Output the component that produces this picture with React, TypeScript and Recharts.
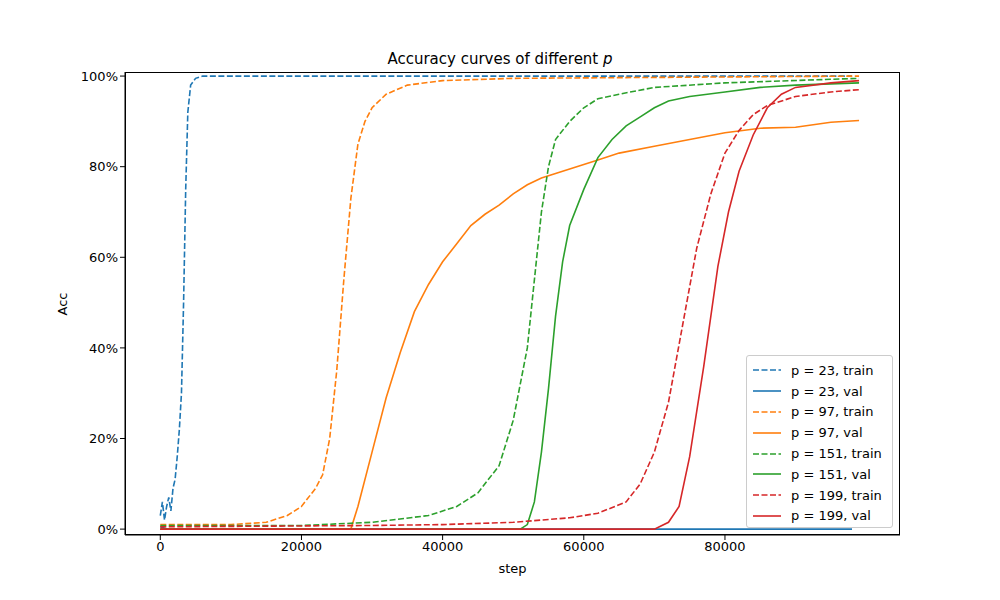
import { LineChart, Line, XAxis, YAxis } from "recharts";

type Pt = { step: number; acc: number };
const pts = (a: number[][]): Pt[] => a.map(([step, acc]) => ({ step, acc }));

const p23Train = pts([[0,3],[300,6],[600,2],[900,5],[1200,7],[1500,4],[1800,9],[2100,11],[2400,16],[2700,22],[3000,30],[3300,50],[3600,75],[3900,92],[4300,98],[5000,99.5],[6000,100],[98000,100]]);
const p23Val = pts([[0,0.5],[1000,0],[98000,0]]);
const p97Train = pts([[0,1],[10000,1],[15000,1.5],[18000,3],[20000,5],[22000,9],[23000,12],[24000,20],[25000,35],[26000,55],[27000,73],[28000,85],[29000,90],[30000,93],[32000,96],[35000,98],[40000,99],[50000,99.5],[99000,100]]);
const p97Val = pts([[0,0],[27000,0],[28000,5],[30000,17],[32000,29],[34000,39],[36000,48],[38000,54],[40000,59],[42000,63],[44000,67],[46000,69.5],[48000,71.5],[50000,74],[52000,76],[54000,77.5],[56000,78.5],[58000,79.5],[60000,80.5],[62000,81.5],[65000,83],[70000,84.5],[75000,86],[80000,87.5],[85000,88.5],[90000,88.7],[95000,89.8],[99000,90.2]]);
const p151Train = pts([[0,0.8],[20000,0.8],[30000,1.5],[38000,3],[42000,5],[45000,8],[48000,14],[50000,24],[52000,40],[53000,55],[54000,70],[55000,80],[56000,86],[58000,90],[60000,93],[62000,95],[65000,96],[70000,97.5],[80000,98.5],[99000,99.5]]);
const p151Val = pts([[0,0],[51000,0],[52000,1],[53000,6],[54000,17],[55000,31],[56000,47],[57000,59],[58000,67],[60000,75],[62000,82],[64000,86],[66000,89],[68000,91],[70000,93],[72000,94.5],[75000,95.5],[80000,96.5],[85000,97.5],[90000,98],[99000,98.5]]);
const p199Train = pts([[0,0.5],[30000,0.8],[40000,1],[50000,1.5],[58000,2.5],[62000,3.5],[66000,6],[68000,10],[70000,17],[72000,28],[74000,45],[76000,62],[78000,74],[80000,83],[82000,88],[84000,91.5],[86000,93.5],[90000,95.5],[95000,96.5],[99000,97]]);
const p199Val = pts([[0,0],[70000,0],[72000,1.5],[73500,5],[75000,16],[77000,36],[79000,58],[80500,70],[82000,79],[84000,87],[86000,93],[88000,96],[90000,97.5],[95000,98.5],[99000,99]]);

const xTicks = [0, 20000, 40000, 60000, 80000];
const yTicks = [0, 20, 40, 60, 80, 100];

const series = [
  { name: "p = 23, train", data: p23Train, color: "#1f77b4", dash: true },
  { name: "p = 23, val", data: p23Val, color: "#1f77b4", dash: false },
  { name: "p = 97, train", data: p97Train, color: "#ff7f0e", dash: true },
  { name: "p = 97, val", data: p97Val, color: "#ff7f0e", dash: false },
  { name: "p = 151, train", data: p151Train, color: "#2ca02c", dash: true },
  { name: "p = 151, val", data: p151Val, color: "#2ca02c", dash: false },
  { name: "p = 199, train", data: p199Train, color: "#d62728", dash: true },
  { name: "p = 199, val", data: p199Val, color: "#d62728", dash: false },
];

const font = "DejaVu Sans, sans-serif";

export default function App() {
  return (
    <div style={{ position: "absolute", left: 0, top: 0, width: 1000, height: 600, background: "#fff", fontFamily: font }}>
      <LineChart width={1000} height={600} margin={{ top: 72, right: 100, bottom: 35, left: 65 }}>
        <XAxis
          type="number"
          dataKey="step"
          domain={[-5000, 104800]}
          ticks={xTicks}
          allowDuplicatedCategory={false}
          height={30}
          tickSize={5}
          stroke="#000"
          tick={{ fill: "#000", fontSize: 13, fontFamily: font }}
        />
        <YAxis
          type="number"
          dataKey="acc"
          domain={[-1.3, 100.9]}
          ticks={yTicks}
          width={60}
          tickSize={5}
          stroke="#000"
          tickFormatter={(v: number) => `${v}%`}
          tick={{ fill: "#000", fontSize: 13, fontFamily: font }}
        />
        {series.map((s) => (
          <Line
            key={s.name}
            data={s.data}
            dataKey="acc"
            stroke={s.color}
            strokeWidth={1.6}
            strokeDasharray={s.dash ? "6 2.5" : undefined}
            dot={false}
            isAnimationActive={false}
          />
        ))}
      </LineChart>
      <div style={{ position: "absolute", left: 125, top: 72, width: 775, height: 463, border: "1px solid #000", boxSizing: "border-box", pointerEvents: "none" }} />
      <div style={{ position: "absolute", left: 0, width: 1000, top: 50, textAlign: "center", fontSize: 15 }}>
        Accuracy curves of different <i>p</i>
      </div>
      <div style={{ position: "absolute", left: 0, width: 1000, top: 561, paddingLeft: 25, boxSizing: "border-box", textAlign: "center", fontSize: 13 }}>step</div>
      <div style={{ position: "absolute", left: 62, top: 304, fontSize: 13, transform: "translate(-50%, -50%) rotate(-90deg)" }}>Acc</div>
      <div style={{ position: "absolute", left: 746, top: 355, width: 147, height: 173, border: "1px solid #ccc", borderRadius: 3, background: "rgba(255,255,255,0.8)", boxSizing: "border-box", padding: "4px 6px", fontSize: 13 }}>
        {series.map((s) => (
          <div key={s.name} style={{ display: "flex", alignItems: "center", height: 20.8 }}>
            <svg width={28} height={10} style={{ marginRight: 10 }}>
              <line x1={0} y1={5} x2={28} y2={5} stroke={s.color} strokeWidth={1.6} strokeDasharray={s.dash ? "6 2.5" : undefined} />
            </svg>
            <span>{s.name}</span>
          </div>
        ))}
      </div>
    </div>
  );
}
